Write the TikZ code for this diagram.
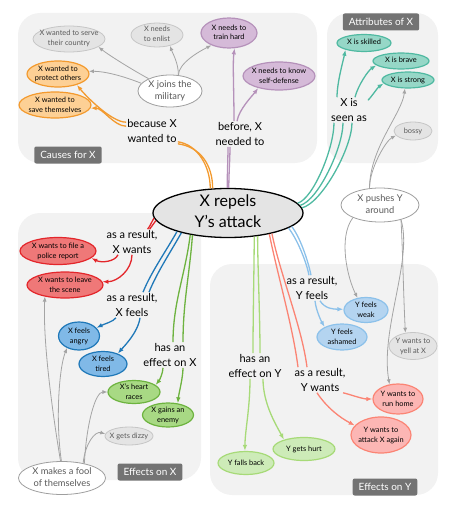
\documentclass[tikz,border=0pt]{standalone}
\usepackage{fontspec}
\setmainfont{Lato}
\usetikzlibrary{positioning,arrows.meta,shapes.geometric}
\definecolor{panelgray}{HTML}{F2F2F2}
\definecolor{titlegray}{HTML}{737373}
\definecolor{nodefill}{HTML}{E4E4E4}
\definecolor{nodeline}{HTML}{C6C6C6}
\definecolor{nodetext}{HTML}{5A5A5A}
\definecolor{ctxline}{HTML}{9E9E9E}
\definecolor{linkgray}{HTML}{A4A4A4}
\definecolor{causefill}{HTML}{FDD095}
\definecolor{causeline}{HTML}{F39A2E}
\definecolor{beforefill}{HTML}{D5BAD8}
\definecolor{beforeline}{HTML}{B591BA}
\definecolor{attrfill}{HTML}{96D7C7}
\definecolor{attrline}{HTML}{4FB9A1}
\definecolor{xwantfill}{HTML}{EF7878}
\definecolor{xwantline}{HTML}{E3262B}
\definecolor{xfeelfill}{HTML}{80B9E7}
\definecolor{xfeelline}{HTML}{1F78B8}
\definecolor{xefffill}{HTML}{A8D984}
\definecolor{xeffline}{HTML}{6DB33F}
\definecolor{yfeelfill}{HTML}{B4D4F0}
\definecolor{yfeelline}{HTML}{8CC1EA}
\definecolor{ywantfill}{HTML}{FCB6B4}
\definecolor{ywantline}{HTML}{FB8474}
\definecolor{yefffill}{HTML}{CDEBB8}
\definecolor{yeffline}{HTML}{A7DA78}
\newcommand{\ovaltext}[1]{\makebox[0pt]{\begin{tabular}{@{}c@{}}#1\end{tabular}}}
\tikzset{
  oval/.style={ellipse, inner xsep=0pt, inner ysep=-3pt, line width=1.2pt,
    font=\fontsize{7.4}{10}\selectfont},
  graynode/.style={oval, fill=nodefill, draw=nodeline, text=nodetext, line width=0.8pt},
  ctxnode/.style={oval, fill=white, draw=ctxline, text=nodetext, line width=0.8pt,
    font=\fontsize{9.3}{12.5}\selectfont},
  rootnode/.style={oval, fill=nodefill, draw=black, line width=1.3pt,
    inner ysep=-4pt, font=\fontsize{16}{21}\selectfont},
  causenode/.style={oval, fill=causefill, draw=causeline},
  beforenode/.style={oval, fill=beforefill, draw=beforeline},
  attrnode/.style={oval, fill=attrfill, draw=attrline},
  xwantnode/.style={oval, fill=xwantfill, draw=xwantline},
  xfeelnode/.style={oval, fill=xfeelfill, draw=xfeelline},
  xeffnode/.style={oval, fill=xefffill, draw=xeffline},
  yfeelnode/.style={oval, fill=yfeelfill, draw=yfeelline},
  ywantnode/.style={oval, fill=ywantfill, draw=ywantline},
  yeffnode/.style={oval, fill=yefffill, draw=yeffline},
  relabel/.style={align=center, inner sep=1pt, font=\fontsize{11}{15}\selectfont},
  paneltitle/.style={fill=titlegray, text=white, rounded corners=2pt, inner xsep=6pt,
    minimum height=17pt, font=\fontsize{10}{12}\selectfont},
  arrowed/.style={-{Latex[length=6pt,width=4.5pt]}},
  link/.style={line width=1.3pt},
  causeln/.style={link, causeline},
  beforeln/.style={link, beforeline},
  attrln/.style={link, attrline},
  xwantln/.style={link, xwantline},
  xfeelln/.style={link, xfeelline},
  xeffln/.style={link, xeffline},
  yfeelln/.style={link, yfeelline},
  ywantln/.style={link, ywantline},
  yeffln/.style={link, yeffline},
  ctxln/.style={line width=0.8pt, linkgray, -{Latex[length=5pt,width=4pt]}}
}
\begin{document}
\begin{tikzpicture}[x=1pt,y=-1pt]
  \useasboundingbox (0,0) rectangle (468,511);
  % panels
  \fill[panelgray,rounded corners=22pt] (18,13) rectangle (317,163);
  \fill[panelgray,rounded corners=22pt] (327,13) rectangle (438,163);
  \fill[panelgray,rounded corners=22pt] (18,213) rectangle (201,480);
  \fill[panelgray,rounded corners=22pt] (210,264) rectangle (438,495);
  \node[paneltitle] (tcauses) at (68,155) {Causes for X};
  \node[paneltitle] (tattr) at (381,22) {Attributes of X};
  \node[paneltitle] (teffx) at (150,472) {Effects on X};
  \node[paneltitle] (teffy) at (385,487) {Effects on Y};

  \node[rootnode, minimum width=150pt, minimum height=49pt] (root) at (228,213)
    {\ovaltext{X repels\\Y's attack}};

  % causes for X
  \node[graynode, minimum width=72pt, minimum height=26pt] (serve) at (69,39)
    {\ovaltext{X wanted to serve\\their country}};
  \node[graynode, minimum width=52pt, minimum height=24pt] (enlist) at (157,35)
    {\ovaltext{X needs\\to enlist}};
  \node[beforenode, minimum width=56pt, minimum height=30pt] (train) at (229,33)
    {\ovaltext{X needs to\\train hard}};
  \node[beforenode, minimum width=72pt, minimum height=28pt] (selfdef) at (279,76)
    {\ovaltext{X needs to know\\self-defense}};
  \node[causenode, minimum width=62pt, minimum height=26pt] (protect) at (58,74)
    {\ovaltext{X wanted to\\protect others}};
  \node[causenode, minimum width=72pt, minimum height=26pt] (save) at (55,105)
    {\ovaltext{X wanted to\\save themselves}};
  \node[ctxnode, minimum width=64pt, minimum height=32pt] (joins) at (170,91)
    {\ovaltext{X joins the\\military}};
  \node[relabel] (lbecause) at (152,131) {because X\\wanted to};
  \node[relabel] (lbefore) at (240,134) {before, X\\needed to};

  % attributes of X
  \node[attrnode, minimum width=54pt, minimum height=17pt] (skilled) at (364,43)
    {\ovaltext{X is skilled}};
  \node[attrnode, minimum width=56pt, minimum height=16pt] (brave) at (401,61)
    {\ovaltext{X is brave}};
  \node[attrnode, minimum width=52pt, minimum height=16pt] (strong) at (408,80)
    {\ovaltext{X is strong}};
  \node[relabel] (lseen) at (349,110) {X is\\seen as};
  \node[graynode, minimum width=38pt, minimum height=18pt] (bossy) at (413,131)
    {\ovaltext{bossy}};
  \node[ctxnode, minimum width=78pt, minimum height=34pt] (pushes) at (380,205)
    {\ovaltext{X pushes Y\\around}};

  % effects on Y
  \node[relabel] (lyfeels) at (312,288) {as a result,\\Y feels};
  \node[yfeelnode, minimum width=44pt, minimum height=25pt] (weak) at (366,310)
    {\ovaltext{Y feels\\weak}};
  \node[yfeelnode, minimum width=50pt, minimum height=26pt] (ashamed) at (342,337)
    {\ovaltext{Y feels\\ashamed}};
  \node[graynode, minimum width=48pt, minimum height=27pt] (yell) at (413,346)
    {\ovaltext{Y wants to\\yell at X}};
  \node[relabel] (lywants) at (320,380) {as a result,\\Y wants};
  \node[ywantnode, minimum width=50pt, minimum height=30pt] (runhome) at (398,399)
    {\ovaltext{Y wants to\\run home}};
  \node[ywantnode, minimum width=60pt, minimum height=36pt] (attack) at (381,435)
    {\ovaltext{Y wants to\\attack X again}};
  \node[relabel] (lyeffect) at (255,366) {has an\\effect on Y};
  \node[yeffnode, minimum width=62pt, minimum height=23pt] (hurt) at (304,449)
    {\ovaltext{Y gets hurt}};
  \node[yeffnode, minimum width=56pt, minimum height=23pt] (fallsback) at (246,463)
    {\ovaltext{Y falls back}};

  % effects on X
  \node[relabel] (lxwants) at (132,242) {as a result,\\X wants};
  \node[xwantnode, minimum width=76pt, minimum height=27pt] (police) at (58,251)
    {\ovaltext{X wants to file a\\police report}};
  \node[xwantnode, minimum width=76pt, minimum height=26pt] (leave) at (65,285)
    {\ovaltext{X wants to leave\\the scene}};
  \node[relabel] (lxfeels) at (132,305) {as a result,\\X feels};
  \node[xfeelnode, minimum width=41pt, minimum height=28pt] (angry) at (79,336)
    {\ovaltext{X feels\\angry}};
  \node[xfeelnode, minimum width=48pt, minimum height=25pt] (tired) at (103,364)
    {\ovaltext{X feels\\tired}};
  \node[relabel] (lxeffect) at (170,355) {has an\\effect on X};
  \node[xeffnode, minimum width=52pt, minimum height=23pt] (heart) at (134,392)
    {\ovaltext{X's heart\\races}};
  \node[xeffnode, minimum width=51pt, minimum height=24pt] (enemy) at (168,415)
    {\ovaltext{X gains an\\enemy}};
  \node[graynode, minimum width=48pt, minimum height=18pt] (dizzy) at (129,436)
    {\ovaltext{X gets dizzy}};
  \node[ctxnode, minimum width=87pt, minimum height=33pt] (fool) at (62,478)
    {\ovaltext{X makes a fool\\of themselves}};

  % root to relation labels
  \draw[causeln] ([xshift=-1.2pt]root.124) .. controls +(0,-22) and +(20,3) .. ([yshift=2pt]lbecause.south east);
  \draw[causeln] ([xshift=1.2pt]root.124) .. controls +(0,-24) and +(22,3) .. (lbecause.south east);
  \draw[beforeln] ([xshift=-0.8pt]root.90) .. controls +(0,-15) and +(0,12) .. ([xshift=-12pt]lbefore.south);
  \draw[beforeln] ([xshift=0.8pt]root.90) .. controls +(0,-15) and +(0,12) .. ([xshift=-10pt]lbefore.south);
  \draw[attrln] (root.8) .. controls +(16,-5) and +(0,25) .. ([xshift=-15pt]lseen.south);
  \draw[attrln] (root.6) .. controls +(18,-5) and +(0,25) .. ([xshift=-6pt]lseen.south);
  \draw[attrln] (root.4) .. controls +(20,-5) and +(0,25) .. ([xshift=3pt]lseen.south);
  \draw[xwantln] (root.-176) .. controls +(-3,5) and +(3,-4) .. ([xshift=-11pt]lxwants.north east);
  \draw[xwantln] (root.-174) .. controls +(-3,5) and +(3,-4) .. ([xshift=-9pt]lxwants.north east);
  \draw[xfeelln] (root.-160) .. controls +(-10,18) and +(8,-20) .. ([xshift=11pt]lxfeels.north);
  \draw[xfeelln] (root.-157) .. controls +(-10,18) and +(8,-20) .. ([xshift=17pt]lxfeels.north);
  \draw[xeffln] (root.-150) .. controls +(-5,40) and +(0,-40) .. ([xshift=3pt]lxeffect.north);
  \draw[xeffln] (root.-148) .. controls +(-3,40) and +(0,-40) .. ([xshift=13pt]lxeffect.north);
  \draw[yeffln] (root.-42) .. controls +(0,30) and +(0,-40) .. ([xshift=-2pt]lyeffect.north);
  \draw[yeffln] (root.-38) .. controls +(0,30) and +(0,-40) .. ([xshift=5pt]lyeffect.north);
  \draw[ywantln] (root.-27) .. controls +(8,40) and +(-5,-40) .. ([xshift=-22pt]lywants.north);
  \draw[ywantln] (root.-25) .. controls +(8,40) and +(-5,-40) .. ([xshift=-13pt]lywants.north);
  \draw[yfeelln] (root.-14) .. controls +(8,10) and +(-3,-15) .. ([xshift=-3pt]lyfeels.north);
  \draw[yfeelln] (root.-12) .. controls +(8,10) and +(-3,-15) .. ([xshift=-1pt]lyfeels.north);

  % relation labels to targets
  \draw[causeln,arrowed] ([yshift=-4pt]lbecause.north west) .. controls +(-15,0) and +(8,10) .. (protect.-30);
  \draw[causeln,arrowed] ([yshift=-8pt]lbecause.north west) .. controls +(-12,0) and +(12,0) .. (save.-5);
  \draw[beforeln,arrowed] ([xshift=-6pt]lbefore.north) .. controls +(0,-30) and +(-2,15) .. (train.-70);
  \draw[beforeln,arrowed] ([xshift=-3pt]lbefore.north) .. controls +(2,-12) and +(-6,8) .. (selfdef.-150);
  \draw[attrln,arrowed] ([xshift=-12pt]lseen.north) .. controls +(0,-15) and +(-2,10) .. (skilled.-160);
  \draw[attrln,arrowed] ([xshift=6pt]lseen.north) .. controls +(3,-12) and +(-8,5) .. (brave.-170);
  \draw[attrln,arrowed] ([yshift=-3pt]lseen.north east) .. controls +(4,-4) and +(-6,4) .. (strong.-172);
  \draw[xwantln,arrowed] ([xshift=-14pt]lxwants.south) .. controls +(-3,7) and +(10,5) .. (police.-12);
  \draw[xwantln,arrowed] (lxwants.south) .. controls +(0,15) and +(15,0) .. (leave.5);
  \draw[xfeelln,arrowed] ([xshift=-16pt]lxfeels.south) .. controls +(-3,4) and +(8,-4) .. (angry.25);
  \draw[xfeelln,arrowed] ([xshift=8pt]lxfeels.south) .. controls +(-2,15) and +(5,-6) .. (tired.35);
  \draw[xeffln,arrowed] ([xshift=-7pt]lxeffect.south) .. controls +(0,5) and +(4,-5) .. (heart.18);
  \draw[xeffln,arrowed] ([xshift=13pt]lxeffect.south) .. controls +(0,10) and +(1,-10) .. (enemy.50);
  \draw[yeffln,arrowed] ([xshift=-5pt]lyeffect.south) .. controls +(0,30) and +(0,-20) .. (fallsback.95);
  \draw[yeffln,arrowed] ([xshift=8pt]lyeffect.south) .. controls +(0,25) and +(-8,-15) .. (hurt.155);
  \draw[ywantln,arrowed] ([xshift=23pt]lywants.south) .. controls +(5,1) and +(-10,0) .. (runhome.180);
  \draw[ywantln,arrowed] ([xshift=-3pt]lywants.south) .. controls +(10,15) and +(-15,-8) .. (attack.160);
  \draw[yfeelln,arrowed] ([xshift=8pt]lyfeels.south) .. controls +(5,8) and +(-10,0) .. (weak.178);
  \draw[yfeelln,arrowed] ([xshift=3pt]lyfeels.south) .. controls +(1,10) and +(-3,-5) .. (ashamed.150);

  % context events
  \draw[ctxln] (joins.150) .. controls +(-15,-8) and +(10,8) .. (serve.-15);
  \draw[ctxln] (joins.165) .. controls +(-20,-8) and +(15,0) .. (protect.5);
  \draw[ctxln] (joins.62) .. controls +(0,-12) and +(3,8) .. (enlist.-40);
  \draw[ctxln] (joins.62) .. controls +(0,-12) and +(-12,6) .. (train.-145);
  \draw[ctxln] (pushes.122) .. controls +(0,-20) and +(-10,5) .. (bossy.-165);
  \draw[ctxln] (pushes.122) .. controls +(0,-40) and +(-3,25) .. (strong.-110);
  \draw[ctxln] (pushes.-155) .. controls +(-15,20) and +(-10,-20) .. (weak.125);
  \draw[ctxln] (pushes.-35) .. controls +(2,40) and +(-2,-40) .. (yell.120);
  \draw[ctxln] (pushes.-35) .. controls +(12,40) and (380,330) .. (runhome.120);
  \draw[ctxln] (fool.95) .. controls +(-10,-60) and +(-2,40) .. (leave.-150);
  \draw[ctxln] (fool.92) .. controls +(-6,-40) and +(-8,20) .. (angry.-135);
  \draw[ctxln] (fool.33) .. controls +(2,-40) and +(-12,0) .. (heart.180);
  \draw[ctxln] (fool.35) .. controls +(2,-20) and +(-10,-3) .. (dizzy.175);
\end{tikzpicture}
\end{document}
